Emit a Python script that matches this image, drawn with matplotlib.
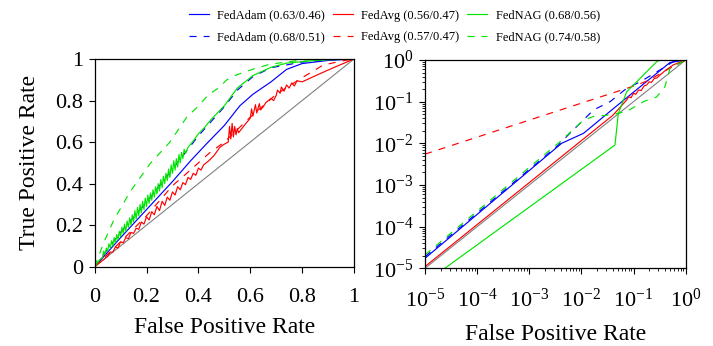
import numpy as np
import matplotlib
matplotlib.use("Agg")
import matplotlib.pyplot as plt
from matplotlib.ticker import FixedLocator, LogLocator, NullFormatter

plt.rcParams['font.family'] = ['Liberation Serif', 'DejaVu Serif']
plt.rcParams['mathtext.fontset'] = 'stix'

# ---------------- data: linear ROC (left panel) ----------------
ADAM_SOLID_FPR = [0.0, 0.1, 0.2, 0.3, 0.37, 0.43, 0.5, 0.56, 0.61, 0.68, 0.74, 0.8, 0.9, 1.0]
ADAM_SOLID_TPR = [0.0, 0.14, 0.275, 0.41, 0.51, 0.59, 0.68, 0.775, 0.83, 0.89, 0.95, 0.978, 0.993, 1.0]

ADAM_DASH_FPR = [0.0, 0.05, 0.1, 0.2, 0.3, 0.4, 0.5, 0.55, 0.61, 0.68, 0.8, 0.9, 1.0]
ADAM_DASH_TPR = [0.0, 0.085, 0.165, 0.31, 0.47, 0.63, 0.77, 0.85, 0.915, 0.958, 0.985, 0.995, 1.0]

NAG_SOLID = [
    (0.000, 0.000), (0.020, 0.035),
    (0.030, 0.045), (0.035, 0.075), (0.040, 0.060), (0.045, 0.090), (0.050, 0.075),
    (0.055, 0.110), (0.060, 0.090), (0.065, 0.125), (0.070, 0.100), (0.075, 0.140),
    (0.080, 0.115), (0.085, 0.155), (0.090, 0.130), (0.095, 0.170), (0.100, 0.145),
    (0.105, 0.190), (0.110, 0.160), (0.115, 0.205), (0.120, 0.170), (0.125, 0.220),
    (0.130, 0.190), (0.135, 0.235), (0.140, 0.200), (0.145, 0.250), (0.150, 0.215),
    (0.155, 0.270), (0.160, 0.230), (0.165, 0.285), (0.170, 0.245), (0.175, 0.300),
    (0.180, 0.260), (0.185, 0.315), (0.190, 0.275), (0.195, 0.330), (0.200, 0.290),
    (0.205, 0.345), (0.210, 0.305), (0.215, 0.355), (0.220, 0.320), (0.225, 0.370),
    (0.230, 0.335), (0.235, 0.385), (0.240, 0.350), (0.245, 0.400), (0.250, 0.365),
    (0.255, 0.420), (0.260, 0.380), (0.265, 0.435), (0.270, 0.400), (0.275, 0.450),
    (0.280, 0.415), (0.285, 0.470), (0.290, 0.430), (0.295, 0.490), (0.300, 0.450),
    (0.305, 0.510), (0.310, 0.465), (0.315, 0.520), (0.320, 0.480), (0.325, 0.540),
    (0.330, 0.500), (0.335, 0.550), (0.340, 0.520), (0.345, 0.565), (0.350, 0.545),
    (0.360, 0.575), (0.380, 0.605), (0.400, 0.640), (0.420, 0.665), (0.450, 0.710),
    (0.500, 0.775), (0.550, 0.860), (0.610, 0.920), (0.680, 0.960), (0.740, 0.980),
    (0.870, 0.995), (1.000, 1.000),
]

NAG_DASH_FPR = [0.0, 0.033, 0.072, 0.136, 0.213, 0.29, 0.355, 0.393, 0.438, 0.477, 0.51, 0.55, 0.586, 0.62, 0.676, 0.8, 1.0]
NAG_DASH_TPR = [0.0, 0.11, 0.22, 0.36, 0.495, 0.60, 0.72, 0.765, 0.827, 0.86, 0.9, 0.925, 0.94, 0.955, 0.975, 0.995, 1.0]

AVG_SOLID = [
    (0.00, 0.000), (0.03, 0.030), (0.05, 0.050), (0.06, 0.070), (0.07, 0.070),
    (0.08, 0.095), (0.09, 0.090), (0.10, 0.120), (0.11, 0.115), (0.12, 0.140),
    (0.13, 0.135), (0.14, 0.165), (0.15, 0.160), (0.16, 0.185), (0.17, 0.180),
    (0.18, 0.215), (0.19, 0.205), (0.20, 0.240), (0.21, 0.225), (0.22, 0.265),
    (0.23, 0.250), (0.24, 0.290), (0.25, 0.270), (0.26, 0.315), (0.27, 0.295),
    (0.28, 0.335), (0.29, 0.320), (0.30, 0.360), (0.31, 0.345), (0.32, 0.385),
    (0.33, 0.370), (0.34, 0.405), (0.35, 0.395), (0.36, 0.430), (0.37, 0.420),
    (0.38, 0.450), (0.39, 0.440), (0.40, 0.475), (0.41, 0.465), (0.42, 0.490),
    (0.44, 0.510), (0.46, 0.535), (0.483, 0.575), (0.50, 0.590), (0.515, 0.600),
    (0.52, 0.675), (0.525, 0.615), (0.53, 0.690), (0.535, 0.625), (0.54, 0.675),
    (0.545, 0.635), (0.55, 0.665), (0.555, 0.645), (0.58, 0.685), (0.60, 0.715),
    (0.605, 0.760), (0.61, 0.725), (0.62, 0.780), (0.625, 0.740), (0.635, 0.785),
    (0.64, 0.755), (0.65, 0.770), (0.66, 0.790), (0.68, 0.810), (0.69, 0.800),
    (0.70, 0.825), (0.705, 0.850), (0.715, 0.835), (0.72, 0.865), (0.73, 0.845),
    (0.74, 0.875), (0.75, 0.860), (0.76, 0.885), (0.77, 0.870), (0.78, 0.895),
    (0.80, 0.890), (0.87, 0.930), (0.93, 0.963), (1.00, 1.000),
]

AVG_DASH_FPR = [0.0, 0.1, 0.2, 0.3, 0.355, 0.445, 0.5, 0.6, 0.7, 0.8, 0.88, 0.95, 1.0]
AVG_DASH_TPR = [0.0, 0.12, 0.245, 0.39, 0.45, 0.55, 0.6, 0.72, 0.83, 0.91, 0.97, 0.99, 1.0]

# ---------------- data: log-log ROC (right panel) ----------------
LOG_ADAM_SOLID_FPR = [1e-5, 4.17e-3, 1.1e-2, 3.8e-2, 0.158, 0.5, 1.0]
LOG_ADAM_SOLID_TPR = [1.74e-5, 1.0e-2, 1.74e-2, 6.3e-2, 0.27, 0.87, 1.0]

LOG_ADAM_DASH_FPR = [1e-5, 3.55e-3, 6.0e-3, 1.7e-2, 3.55e-2, 7.4e-2, 0.135, 0.32, 0.575, 1.0]
LOG_ADAM_DASH_TPR = [1.9e-5, 8.9e-3, 1.74e-2, 6.3e-2, 0.10, 0.21, 0.30, 0.575, 0.91, 1.0]

LOG_AVG_SOLID = [
    (1e-5, 1.1e-5), (0.04, 0.047), (0.074, 0.11), (0.08, 0.13), (0.09, 0.125),
    (0.10, 0.16), (0.11, 0.15), (0.125, 0.19), (0.14, 0.185), (0.16, 0.24),
    (0.178, 0.25), (0.20, 0.30), (0.22, 0.29), (0.25, 0.36), (0.28, 0.37),
    (0.324, 0.44), (0.40, 0.55), (0.575, 0.76), (1.0, 1.0),
]

LOG_AVG_DASH_FPR = [1e-5, 0.115, 0.2, 0.4, 1.0]
LOG_AVG_DASH_TPR = [5.5e-3, 0.25, 0.33, 0.55, 1.0]

LOG_NAG_SOLID_FPR = [2.4e-5, 0.044, 0.051, 0.074, 0.115, 0.155, 0.278, 0.32, 1.0]
LOG_NAG_SOLID_TPR = [1e-5, 9.1e-3, 0.052, 0.174, 0.30, 0.44, 0.91, 1.0, 1.0]

LOG_NAG_DASH_FPR = [1e-5, 3.9e-3, 1.1e-2, 1.7e-2, 3.5e-2, 7.4e-2, 0.155, 0.278, 0.40, 0.50, 1.0]
LOG_NAG_DASH_TPR = [2.1e-5, 1.1e-2, 3.6e-2, 4.4e-2, 4.8e-2, 5.8e-2, 0.10, 0.13, 0.23, 0.63, 1.0]

LEGEND_LABELS = ["FedAdam (0.63/0.46)", "FedAdam (0.68/0.51)",
                 "FedAvg (0.56/0.47)", "FedAvg (0.57/0.47)",
                 "FedNAG (0.68/0.56)", "FedNAG (0.74/0.58)"]
LIN_TICKS = [0, 0.2, 0.4, 0.6, 0.8, 1.0]
LIN_TICK_LABELS = ["0", "0.2", "0.4", "0.6", "0.8", "1"]

BLUE, RED, GREEN, GRAY = "#0000ff", "#ff0000", "#00e600", "#808080"
LW = 0.85
DASH = (6, 6)

fig = plt.figure(figsize=(7.13, 3.46), dpi=100)
axL = fig.add_axes([0.1328, 0.2292, 0.3637, 0.6003])
axR = fig.add_axes([0.5961, 0.2246, 0.3656, 0.6020])

def unzip(pairs):
    a = np.array(pairs)
    return a[:, 0], a[:, 1]

# left panel
axL.plot([0, 1], [0, 1], color=GRAY, lw=0.8)
h_as, = axL.plot(ADAM_SOLID_FPR, ADAM_SOLID_TPR, color=BLUE, lw=LW)
h_ad, = axL.plot(ADAM_DASH_FPR, ADAM_DASH_TPR, color=BLUE, lw=LW, dashes=DASH)
x, y = unzip(AVG_SOLID)
h_vs, = axL.plot(x, y, color=RED, lw=LW)
h_vd, = axL.plot(AVG_DASH_FPR, AVG_DASH_TPR, color=RED, lw=LW, dashes=DASH)
x, y = unzip(NAG_SOLID)
h_ns, = axL.plot(x, y, color=GREEN, lw=LW)
h_nd, = axL.plot(NAG_DASH_FPR, NAG_DASH_TPR, color=GREEN, lw=LW, dashes=DASH)

axL.set_xlim(0, 1)
axL.set_ylim(0, 1)
axL.xaxis.set_major_locator(FixedLocator(LIN_TICKS))
axL.yaxis.set_major_locator(FixedLocator(LIN_TICKS))
axL.set_xticklabels(LIN_TICK_LABELS)
axL.set_yticklabels(LIN_TICK_LABELS)
axL.set_xlabel("False Positive Rate", fontsize=17, labelpad=7)
axL.set_ylabel("True Positive Rate", fontsize=17, labelpad=11)

# right panel
axR.plot([1e-5, 1], [1e-5, 1], color=GRAY, lw=0.8)
axR.plot(LOG_ADAM_SOLID_FPR, LOG_ADAM_SOLID_TPR, color=BLUE, lw=LW)
axR.plot(LOG_ADAM_DASH_FPR, LOG_ADAM_DASH_TPR, color=BLUE, lw=LW, dashes=DASH)
x, y = unzip(LOG_AVG_SOLID)
axR.plot(x, y, color=RED, lw=LW)
axR.plot(LOG_AVG_DASH_FPR, LOG_AVG_DASH_TPR, color=RED, lw=LW, dashes=DASH)
axR.plot(LOG_NAG_SOLID_FPR, LOG_NAG_SOLID_TPR, color=GREEN, lw=LW)
axR.plot(LOG_NAG_DASH_FPR, LOG_NAG_DASH_TPR, color=GREEN, lw=LW, dashes=DASH)
axR.set_xscale("log")
axR.set_yscale("log")
axR.set_xlim(1e-5, 1)
axR.set_ylim(1e-5, 1)
for a in (axR.xaxis, axR.yaxis):
    a.set_major_locator(LogLocator(base=10, numticks=10))
    a.set_minor_locator(LogLocator(base=10, subs=np.arange(2, 10), numticks=20))
    a.set_minor_formatter(NullFormatter())
axR.set_xlabel("False Positive Rate", fontsize=17, labelpad=9)

for ax in (axL, axR):
    ax.tick_params(which="major", direction="out", length=4.5, width=0.8,
                   labelsize=16, top=False, right=False)
    ax.tick_params(which="minor", direction="out", length=2.5, width=0.6,
                   top=False, right=False)
    ax.tick_params(axis="y", which="major", pad=4)
    for s in ax.spines.values():
        s.set_linewidth(0.9)
axL.tick_params(axis="x", which="major", pad=11)
axR.tick_params(axis="x", which="major", pad=10)

fig.legend([h_as, h_ad, h_vs, h_vd, h_ns, h_nd], LEGEND_LABELS, ncol=3,
           loc="upper center", bbox_to_anchor=(0.553, 1.005), frameon=False,
           fontsize=9, handlelength=1.6, handletextpad=0.7, columnspacing=0.6,
           labelspacing=0.75)

fig.savefig("out.png", dpi=100)
